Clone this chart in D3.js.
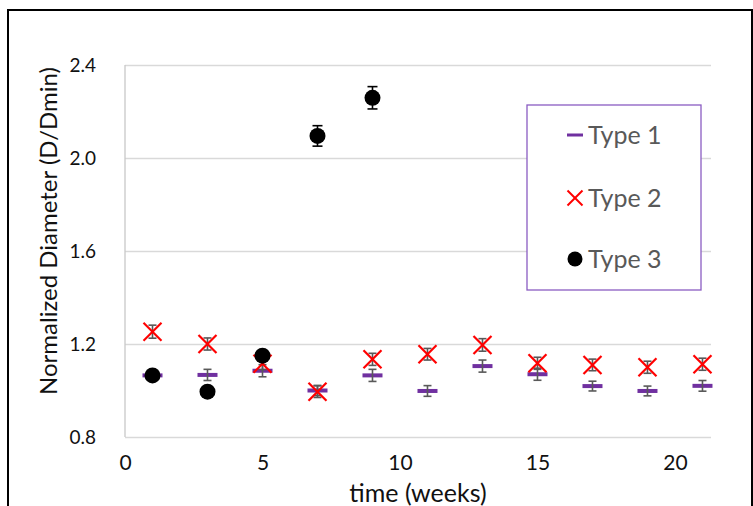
<!DOCTYPE html>
<html>
<head>
<meta charset="utf-8">
<script src="https://cdn.jsdelivr.net/npm/d3@7/dist/d3.min.js"></script>
<style>
  html, body { margin: 0; padding: 0; background: #fff; }
  svg { display: block; }
  text { font-family: Lato, "Open Sans", sans-serif; }
</style>
</head>
<body>
<svg id="chart" width="753" height="506"></svg>
<script>
// Sampling times (weeks)
const weeks = [1, 3, 5, 7, 9, 11, 13, 15, 17, 19, 21];
const weeksType3 = [1, 3, 5, 7, 9];

// Normalized diameter D/Dmin per series
const type1 = [1.065, 1.067, 1.085, 1.0, 1.065, 0.998, 1.105, 1.07, 1.019, 0.998, 1.02];
const type1Err = [0.02, 0.024, 0.026, 0.022, 0.026, 0.023, 0.026, 0.026, 0.021, 0.021, 0.023];
const type2 = [1.253, 1.2, 1.115, 0.995, 1.134, 1.156, 1.196, 1.117, 1.11, 1.1, 1.113];
const type2Err = [0.028, 0.026, 0.025, 0.025, 0.026, 0.025, 0.027, 0.026, 0.025, 0.026, 0.026];
const type3 = [1.065, 0.995, 1.15, 2.095, 2.259];
const type3Err = [0.015, 0.015, 0.015, 0.044, 0.048];

const xTicks = [0, 5, 10, 15, 20];
const yTicks = [0.8, 1.2, 1.6, 2.0, 2.4];
const seriesNames = ["Type 1", "Type 2", "Type 3"];

const svg = d3.select("#chart");

// outer frame
svg.append("rect")
  .attr("x", 8).attr("y", 10).attr("width", 744).attr("height", 520)
  .attr("fill", "none").attr("stroke", "#000").attr("stroke-width", 2);

const x = d3.scaleLinear().domain([0, 21.31]).range([125, 711]);
const y = d3.scaleLinear().domain([0.8, 2.4]).range([437, 65]);

// horizontal gridlines
svg.append("g").attr("transform", `translate(${x(0)},0)`)
  .call(d3.axisLeft(y).tickValues(yTicks).tickSize(-(x.range()[1] - x.range()[0])).tickFormat(""))
  .call(g => g.select(".domain").remove())
  .call(g => g.selectAll(".tick line").attr("stroke", "#d9d9d9").attr("stroke-width", 1.3));

// left axis line
svg.append("line")
  .attr("x1", x(0)).attr("x2", x(0)).attr("y1", y(2.4)).attr("y2", y(0.8))
  .attr("stroke", "#c8c8c8").attr("stroke-width", 1.3);

// y tick labels
svg.append("g").attr("transform", `translate(96,0)`)
  .call(d3.axisLeft(y).tickValues(yTicks).tickSize(0).tickPadding(0).tickFormat(d3.format(".1f")))
  .call(g => g.select(".domain").remove())
  .call(g => g.selectAll("text").attr("font-size", 19).attr("fill", "#111")
    .attr("font-family", "Lato, sans-serif"));

// x tick labels
svg.append("g").attr("transform", `translate(0,455)`)
  .call(d3.axisBottom(x).tickValues(xTicks).tickSize(0).tickPadding(0).tickFormat(d3.format("d")))
  .call(g => g.select(".domain").remove())
  .call(g => g.selectAll("text").attr("font-size", 21).attr("fill", "#111")
    .attr("font-family", "Lato, sans-serif"));

// axis titles
svg.append("text")
  .attr("x", 418).attr("y", 502).attr("text-anchor", "middle")
  .attr("font-size", 25).attr("fill", "#111").text("time (weeks)");

svg.append("text")
  .attr("transform", "translate(57,231) rotate(-90)")
  .attr("text-anchor", "middle")
  .attr("font-size", 24).attr("fill", "#111").text("Normalized Diameter (D/Dmin)");

// error bars
function errorBars(xs, vs, es, color, cap) {
  const g = svg.append("g").attr("stroke", color).attr("stroke-width", 1.6);
  xs.forEach((wk, i) => {
    const cx = x(wk), y0 = y(vs[i] - es[i]), y1 = y(vs[i] + es[i]);
    g.append("line").attr("x1", cx).attr("x2", cx).attr("y1", y0).attr("y2", y1);
    g.append("line").attr("x1", cx - cap).attr("x2", cx + cap).attr("y1", y0).attr("y2", y0);
    g.append("line").attr("x1", cx - cap).attr("x2", cx + cap).attr("y1", y1).attr("y2", y1);
  });
}

const purple = "#7030a0", red = "#ff0000";

// Type 1: short purple dashes
svg.append("g").selectAll("rect").data(weeks).join("rect")
  .attr("x", d => x(d) - 10).attr("y", (d, i) => y(type1[i]) - 2)
  .attr("width", 20).attr("height", 4).attr("fill", purple);
errorBars(weeks, type1, type1Err, "#595959", 4);

// Type 2: red crosses
errorBars(weeks, type2, type2Err, "#595959", 4);
const xMark = (g, cx, cy, s) => {
  g.append("line").attr("x1", cx - s).attr("x2", cx + s).attr("y1", cy - s).attr("y2", cy + s);
  g.append("line").attr("x1", cx - s).attr("x2", cx + s).attr("y1", cy + s).attr("y2", cy - s);
};
const g2 = svg.append("g").attr("stroke", red).attr("stroke-width", 2.2);
weeks.forEach((wk, i) => xMark(g2, x(wk), y(type2[i]), 9));

// Type 3: black dots
errorBars(weeksType3, type3, type3Err, "#000", 5);
svg.append("g").selectAll("circle").data(weeksType3).join("circle")
  .attr("cx", d => x(d)).attr("cy", (d, i) => y(type3[i]))
  .attr("r", 8).attr("fill", "#000");

// legend
const lg = svg.append("g");
lg.append("rect").attr("x", 527).attr("y", 105).attr("width", 174).attr("height", 185)
  .attr("fill", "#fff").attr("stroke", "#8a5cc2").attr("stroke-width", 1.3);
const rowY = [135, 198, 259];
seriesNames.forEach((name, i) => {
  lg.append("text").attr("x", 588).attr("y", rowY[i] + 9)
    .attr("font-size", 25).attr("fill", "#595959").text(name);
});
lg.append("rect").attr("x", 567).attr("y", rowY[0] - 1.5).attr("width", 16).attr("height", 3).attr("fill", purple);
const lx = lg.append("g").attr("stroke", red).attr("stroke-width", 2);
xMark(lx, 575, rowY[1], 7.5);
lg.append("circle").attr("cx", 575).attr("cy", rowY[2]).attr("r", 7.5).attr("fill", "#000");
</script>
</body>
</html>
